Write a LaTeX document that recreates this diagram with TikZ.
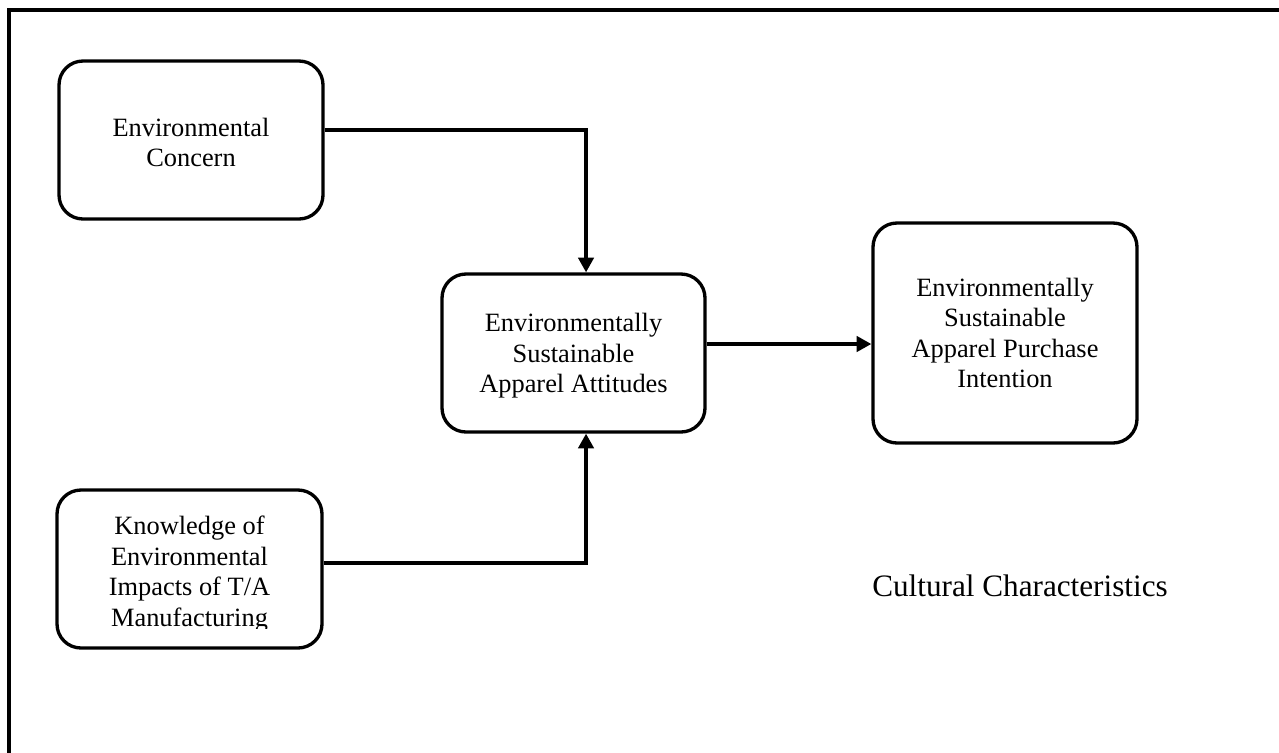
\documentclass[tikz,border=0pt]{standalone}
\usepackage{fontspec}
\setmainfont{Liberation Serif}
\usetikzlibrary{arrows.meta}
\begin{document}
\begin{tikzpicture}[x=0.75pt,y=-0.75pt,
  box/.style={draw,line width=2.5pt,rounded corners=18pt,align=center,inner sep=0pt,
    font=\fontsize{19.8}{22.8}\selectfont},
  txt/.style={align=center,inner sep=0pt,font=\fontsize{19.8}{22.8}\selectfont},
  arr/.style={line width=2.5pt,-{Triangle[length=11pt,width=11.5pt]}}]
\useasboundingbox (0,0) rectangle (1279,753);
\draw[line width=3pt] (9,753) -- (9,10) -- (1279,10);
\node[box,minimum width=198pt,minimum height=118.5pt] (b1) at (191,140) {};
\node[txt] (t1) at (191,142.5) {Environmental\\Concern};
\node[box,minimum width=198.75pt,minimum height=118.5pt] (b2) at (189.5,569) {};
\begin{scope}
\clip (50,495) rectangle (330,628);
\node[txt] (t2) at (189.5,574) {Knowledge of\\Environmental\\Impacts of T/A\\Manufacturing};
\end{scope}
\node[box,minimum width=197.25pt,minimum height=118.5pt] (b3) at (573.5,353) {};
\node[txt] (t3) at (573.5,356) {Environmentally\\Sustainable\\Apparel Attitudes};
\node[box,minimum width=198pt,minimum height=165pt] (b4) at (1005,333) {Environmentally\\Sustainable\\Apparel Purchase\\Intention};
\node[txt,font=\fontsize{23.4}{27}\selectfont] (cc) at (1020,586) {Cultural Characteristics};
\draw[arr] ([yshift=7.5pt]b1.east) -| ([xshift=9.4pt]b3.north);
\draw[arr] ([yshift=4.5pt]b2.east) -| ([xshift=9.4pt]b3.south);
\draw[arr] ([yshift=6.75pt]b3.east) -- ([yshift=6.75pt]b3.east -| b4.west);
\end{tikzpicture}
\end{document}
